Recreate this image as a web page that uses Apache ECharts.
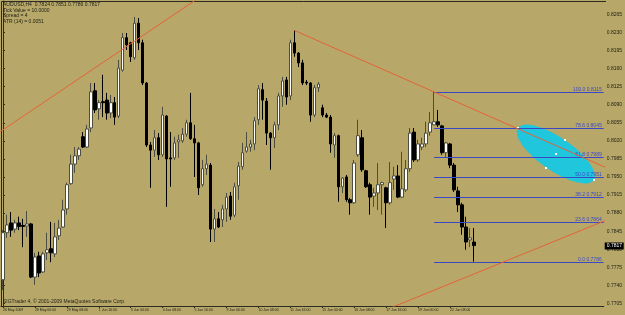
<!DOCTYPE html>
<html><head><meta charset="utf-8">
<script src="https://cdn.jsdelivr.net/npm/echarts@6/dist/echarts.min.js"></script>
<style>html,body{margin:0;padding:0;background:#b7a869;}#c{width:625px;height:315px;}</style>
</head><body><div id="c"></div>
<script>
// ---- data ----
const symbolName = 'AUDUSD,H4';
const timeLabels = ['26 May 2009','28 May 00:00','29 May 08:00','1 Jun 16:00','3 Jun 00:00','4 Jun 08:00','5 Jun 16:00','9 Jun 00:00','10 Jun 08:00','11 Jun 16:00','15 Jun 00:00','16 Jun 08:00','17 Jun 16:00','19 Jun 00:00','22 Jun 08:00'];
const labelEvery = 8;
const slotCount = 151;
const open = [0.7751,0.7842,0.7861,0.7849,0.7861,0.7856,0.7855,0.7859,0.7756,0.7797,0.7766,0.7803,0.7811,0.7801,0.7836,0.7853,0.7888,0.7937,0.7975,0.7991,
0.8028,0.8008,0.8045,0.8117,0.8082,0.8096,0.8099,0.8074,0.8094,0.8068,0.8157,0.8220,0.8210,0.8181,0.8248,0.8210,0.8132,0.8012,0.8002,0.8026,
0.7993,0.8068,0.7987,0.7987,0.8018,0.8020,0.8033,0.8055,0.8024,0.8016,0.7935,0.7966,0.7973,0.7849,0.7869,0.7867,0.7888,0.7913,0.7876,0.7933,
0.7970,0.8000,0.8008,0.8014,0.8061,0.8119,0.8097,0.8035,0.8026,0.8051,0.8107,0.8138,0.8107,0.8210,0.8190,0.8171,0.8134,0.8132,0.8070,0.8123,
0.8084,0.8070,0.8066,0.8012,0.8030,0.7931,0.7950,0.7906,0.7900,0.7993,0.8026,0.7962,0.7935,0.7913,0.7919,0.7935,0.7929,0.7900,0.7946,0.7952,
0.7911,0.7925,0.7966,0.8037,0.7983,0.8008,0.8014,0.8037,0.8051,0.8057,0.8049,0.7997,0.8014,0.7973,0.7923,0.7896,0.7853,0.7828,0.7824];
const close = [0.7842,0.7857,0.7847,0.7861,0.7854,0.7854,0.7859,0.7756,0.7795,0.7764,0.7801,0.7809,0.7803,0.7834,0.7851,0.7886,0.7935,0.7975,0.7991,0.8004,
0.8008,0.8043,0.8115,0.8080,0.8094,0.8094,0.8074,0.8094,0.8066,0.8161,0.8220,0.8206,0.8183,0.8248,0.8210,0.8132,0.8012,0.8002,0.8026,0.7993,
0.8070,0.7985,0.7985,0.8016,0.8022,0.8033,0.8055,0.8024,0.8016,0.7929,0.7966,0.7975,0.7849,0.7869,0.7853,0.7888,0.7911,0.7874,0.7931,0.7971,
0.7997,0.8008,0.8014,0.8059,0.8121,0.8099,0.8035,0.8026,0.8051,0.8107,0.8136,0.8105,0.8210,0.8190,0.8171,0.8132,0.8132,0.8070,0.8123,0.8130,
0.8070,0.8066,0.8014,0.8030,0.7931,0.7948,0.7906,0.7900,0.7977,0.8030,0.7964,0.7931,0.7911,0.7919,0.7935,0.7939,0.7900,0.7939,0.7952,0.7911,
0.7927,0.7966,0.8035,0.7983,0.8014,0.8014,0.8035,0.8055,0.8057,0.8051,0.7997,0.8016,0.7973,0.7925,0.7896,0.7853,0.7824,0.7832,0.7817];
const low = [0.7731,0.7832,0.7834,0.7842,0.7847,0.7814,0.7834,0.7754,0.7741,0.7756,0.7764,0.7789,0.7785,0.7795,0.7828,0.7851,0.7877,0.7935,0.7958,0.7983,
0.8006,0.8006,0.8037,0.8074,0.8061,0.8066,0.8061,0.8064,0.8051,0.8064,0.8154,0.8196,0.8173,0.8177,0.8196,0.8128,0.8008,0.7929,0.7989,0.7983,
0.7989,0.7892,0.7931,0.7983,0.7987,0.8016,0.8028,0.8022,0.7950,0.7915,0.7931,0.7954,0.7824,0.7824,0.7851,0.7853,0.7863,0.7867,0.7872,0.7906,
0.7964,0.7997,0.7999,0.8002,0.8051,0.8061,0.8012,0.7964,0.8006,0.8041,0.8086,0.8090,0.8099,0.8183,0.8163,0.8128,0.8128,0.8057,0.8066,0.8115,
0.8066,0.8064,0.7997,0.7987,0.7902,0.7919,0.7902,0.7877,0.7898,0.7989,0.7960,0.7929,0.7877,0.7892,0.7886,0.7877,0.7851,0.7896,0.7925,0.7909,
0.7909,0.7921,0.7960,0.7979,0.7979,0.8002,0.8008,0.8030,0.8051,0.8047,0.7993,0.7989,0.7967,0.7921,0.7882,0.7838,0.7809,0.7814,0.7786];
const high = [0.7847,0.7877,0.7882,0.7867,0.7873,0.7869,0.7884,0.7861,0.7803,0.7805,0.7805,0.7842,0.7863,0.7861,0.7867,0.7906,0.7939,0.7993,0.8008,0.8008,
0.8037,0.8051,0.8132,0.8132,0.8099,0.8148,0.8113,0.8109,0.8105,0.8177,0.8229,0.8229,0.8212,0.8260,0.8258,0.8216,0.8134,0.8018,0.8041,0.8035,
0.8086,0.8070,0.8037,0.8028,0.8032,0.8045,0.8061,0.8113,0.8051,0.8018,0.7983,0.7993,0.7977,0.7888,0.7882,0.7896,0.7919,0.7921,0.7939,0.7979,
0.8016,0.8037,0.8022,0.8066,0.8128,0.8132,0.8103,0.8037,0.8057,0.8113,0.8144,0.8144,0.8216,0.8234,0.8192,0.8177,0.8138,0.8134,0.8128,0.8134,
0.8090,0.8074,0.8070,0.8035,0.8032,0.7950,0.7954,0.7909,0.7983,0.8061,0.8041,0.7964,0.7939,0.7929,0.7977,0.7941,0.7931,0.7979,0.7970,0.7973,
0.7999,0.7983,0.8045,0.8045,0.8022,0.8026,0.8057,0.8076,0.8115,0.8080,0.8051,0.8018,0.8016,0.7977,0.7931,0.7900,0.7873,0.7851,0.7851];
const priceTicks = [0.7705,0.7740,0.7775,0.7810,0.7845,0.7880,0.7915,0.7950,0.7985,0.8020,0.8055,0.8090,0.8125,0.8160,0.8195,0.8230,0.8265];
const priceMin = 0.7700, priceMax = 0.8291;
const fibLevels = [0, 23.6, 38.2, 50, 61.8, 78.6, 100];
const fibHighBar = 108, fibLowBar = 118;
const trendLine1 = [[-2, 0.8031], [50, 0.8302]];
const trendLine2 = [[73, 0.8234], [152, 0.7965]];
const trendLine3 = [[90, 0.7674], [152, 0.7869]];
const ellipseAxis = [[129, 0.8045], [148, 0.7944]];
const ellipseRatio = 0.36;
const infoLines = ['Tick Value = 10.0000', 'Spread = 4', 'ATR (14) = 0.0051'];
const copyright = 'SIGTrader 4, \u00a9 2001-2009 MetaQuotes Software Corp.';

// ---- build ----
const n = open.length;
const categories = Array.from({length: slotCount}, (_, i) => i);
const candles = open.map((o, i) => [o, close[i], low[i], high[i]]);
const fibHigh = high[fibHighBar], fibLow = low[fibLowBar];
const fibData = fibLevels.map(l => [fibHighBar, fibLow + (fibHigh - fibLow) * l / 100, l]);
const last = n - 1;
const header = symbolName + '  ' + [open[last], high[last], low[last], close[last]].map(v => v.toFixed(4)).join(' ');

const FONT = '"Liberation Sans", Arial, sans-serif';
const TXT = '#1e1e14';
const AX = '#2b2b20';
const FIB = '#3a48c8';
const RED = '#e4623a';
const isLabel = (i) => i % labelEvery === 0 && i / labelEvery < timeLabels.length;
const half = v => Math.round(v) + 0.5;

function renderFib(params, api) {
  const p = api.value(1), lvl = api.value(2);
  const s = api.coord([api.value(0), p]);
  const cs = params.coordSys;
  const xe = cs.x + cs.width;
  const y = half(s[1]);
  return {type: 'group', children: [
    {type: 'line', shape: {x1: s[0], y1: y, x2: xe, y2: y}, style: {stroke: FIB, lineWidth: 1}},
    {type: 'text', x: xe - 2, y: y - 0.5, style: {text: lvl.toFixed(1) + ' ' + p.toFixed(4), fill: FIB,
      fontSize: 5, fontFamily: FONT, align: 'right', verticalAlign: 'bottom'}}
  ]};
}
function renderEllipse(params, api) {
  const a = api.coord([api.value(0), api.value(1)]);
  const b = api.coord([api.value(2), api.value(3)]);
  const r = api.value(4);
  const cx = (a[0] + b[0]) / 2, cy = (a[1] + b[1]) / 2;
  const dx = (b[0] - a[0]) / 2, dy = (b[1] - a[1]) / 2;
  const pts = [];
  for (let k = 0; k < 90; k++) {
    const t = k / 90 * Math.PI * 2;
    pts.push([cx + dx * Math.cos(t) - dy * r * Math.sin(t), cy + dy * Math.cos(t) + dx * r * Math.sin(t)]);
  }
  const anchors = [a, b, [cx, cy], [cx - dy * r, cy + dx * r], [cx + dy * r, cy - dx * r]];
  return {type: 'group', children: [
    {type: 'polygon', shape: {points: pts}, style: {fill: '#1fc6dc', stroke: null}}
  ].concat(anchors.map(q => ({type: 'rect', shape: {x: Math.round(q[0]) - 1, y: Math.round(q[1]) - 1, width: 2, height: 2}, style: {fill: '#ffffff'}})))};
}
function renderPriceBox(params, api) {
  const p = api.value(1);
  const y = api.coord([api.value(0), p])[1];
  const cs = params.coordSys;
  const x = cs.x + cs.width + 1;
  return {type: 'group', children: [
    {type: 'rect', shape: {x: x, y: Math.round(y) - 3.5, width: 19, height: 7}, style: {fill: '#000000'}},
    {type: 'text', x: x + 2, y: y, style: {text: p.toFixed(4), fill: '#ffffff', fontSize: 5, fontFamily: FONT, align: 'left', verticalAlign: 'middle'}}
  ]};
}

const chart = echarts.init(document.getElementById('c'), null, {renderer: 'canvas'});
const lineSeries = (d) => ({type: 'line', xAxisIndex: 1, yAxisIndex: 0, data: d, symbol: 'none', silent: true, z: 4,
  lineStyle: {color: RED, width: 1}, clip: true});

chart.setOption({
  animation: false,
  backgroundColor: '#b7a869',
  grid: {left: -1, right: 19, top: 1, bottom: 9, show: false},
  xAxis: [
    {type: 'category', data: categories, boundaryGap: true,
      axisLine: {show: true, lineStyle: {color: AX, width: 1}},
      axisTick: {show: true, interval: (i) => isLabel(i), alignWithLabel: true, length: 2, lineStyle: {color: AX}},
      axisLabel: {show: true, interval: (i) => isLabel(i), formatter: (v, i) => timeLabels[i / labelEvery] || '',
        align: 'left', fontSize: 3.5, fontFamily: FONT, color: TXT, margin: 2.5},
      splitLine: {show: false}},
    {type: 'value', min: -0.5, max: slotCount - 0.5, show: false, splitLine: {show: false}}
  ],
  yAxis: [{type: 'value', position: 'right', min: priceMin, max: priceMax, scale: true,
    axisLine: {show: true, lineStyle: {color: AX, width: 1}},
    axisTick: {show: true, customValues: priceTicks, length: 2, lineStyle: {color: AX}},
    axisLabel: {show: true, customValues: priceTicks, formatter: v => v.toFixed(4), fontSize: 5, fontFamily: FONT, color: TXT, margin: 3},
    splitLine: {show: false}}],
  graphic: [
    {type: 'line', shape: {x1: 1.5, y1: 1.5, x2: 606, y2: 1.5}, style: {stroke: AX, lineWidth: 1}, silent: true},
    {type: 'line', shape: {x1: 1.5, y1: 1.5, x2: 1.5, y2: 306}, style: {stroke: AX, lineWidth: 1}, silent: true},
    {type: 'text', left: 3, top: 2, style: {text: header, fill: TXT, fontSize: 5, fontFamily: FONT}, silent: true},
    {type: 'text', left: 3, top: 8, style: {text: infoLines[0], fill: TXT, fontSize: 5, fontFamily: FONT}, silent: true},
    {type: 'text', left: 3, top: 13.5, style: {text: infoLines[1], fill: TXT, fontSize: 5, fontFamily: FONT}, silent: true},
    {type: 'text', left: 3, top: 19.5, style: {text: infoLines[2], fill: TXT, fontSize: 5, fontFamily: FONT}, silent: true},
    {type: 'text', left: 3, top: 299.5, style: {text: copyright, fill: TXT, fontSize: 5, fontFamily: FONT}, silent: true}
  ],
  series: [
    {type: 'custom', xAxisIndex: 1, yAxisIndex: 0, renderItem: renderEllipse, silent: true, z: 1,
      encode: {x: [0, 2], y: [1, 3]},
      data: [[ellipseAxis[0][0], ellipseAxis[0][1], ellipseAxis[1][0], ellipseAxis[1][1], ellipseRatio]]},
    {type: 'candlestick', xAxisIndex: 0, yAxisIndex: 0, data: candles, barWidth: 3, z: 2, silent: true,
      itemStyle: {color: '#ffffff', color0: '#000000', borderColor: '#4d4d40', borderColor0: '#000000', borderWidth: 1}},
    {type: 'custom', xAxisIndex: 1, yAxisIndex: 0, renderItem: renderFib, silent: true, z: 3,
      encode: {x: 0, y: 1}, data: fibData},
    lineSeries(trendLine1), lineSeries(trendLine2), lineSeries(trendLine3),
    {type: 'custom', xAxisIndex: 1, yAxisIndex: 0, renderItem: renderPriceBox, silent: true, z: 10, clip: false,
      encode: {x: 0, y: 1}, data: [[last, close[last]]]}
  ]
});
</script></body></html>
